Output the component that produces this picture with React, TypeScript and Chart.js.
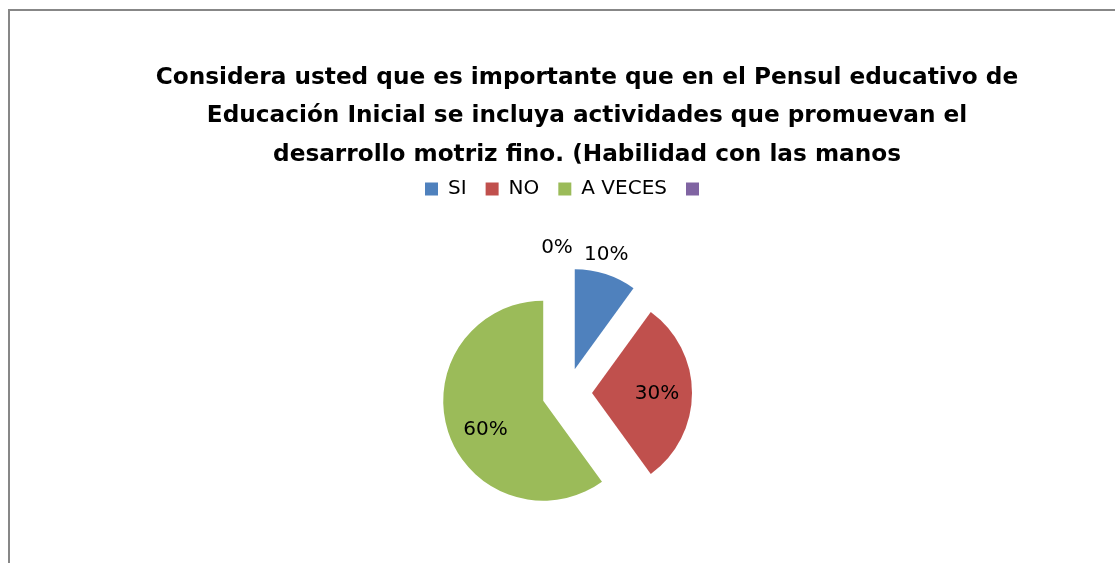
import React, { useEffect, useRef } from 'react';
import { Chart, registerables } from 'chart.js';

Chart.register(...registerables);

// ---- data ----
const categories = ['SI', 'NO', 'A VECES', ''];
const values = [10, 30, 60, 0];
const colors = ['#4F81BD', '#C0504D', '#9BBB59', '#8064A2'];
const titleLines = [
  'Considera usted que es importante que en el Pensul educativo de',
  'Educación Inicial se incluya actividades que promuevan el',
  'desarrollo motriz fino. (Habilidad con las manos',
];

// ---- style / layout ----
const FONT = '"DejaVu Sans"';
const EXPLODE = 25;
const RADIUS = 100;
const labelDist = [1.18, 0.65, 0.65, 1.2];
const labelShiftX = [-5, 0, 4, -10];
const labelShiftY = [-2, 1, 9, 0];
const TITLE_X = 577;
const TITLE_BASE = 72.5;
const TITLE_LH = 38.5;

const explodePlugin = {
  id: 'explode',
  afterDatasetUpdate(chart: any, args: any) {
    const meta = chart.getDatasetMeta(args.index);
    meta.data.forEach((arc: any) => {
      const mid = (arc.startAngle + arc.endAngle) / 2;
      arc.x += Math.cos(mid) * EXPLODE;
      arc.y += Math.sin(mid) * EXPLODE;
    });
  },
};

const labelPlugin = {
  id: 'sliceLabels',
  afterDatasetsDraw(chart: any) {
    const ctx = chart.ctx as CanvasRenderingContext2D;
    const meta = chart.getDatasetMeta(0);
    const data = chart.data.datasets[0].data as number[];
    const total = data.reduce((a, b) => a + b, 0);
    ctx.save();
    ctx.font = `20px ${FONT}`;
    ctx.fillStyle = '#000';
    ctx.textAlign = 'center';
    ctx.textBaseline = 'middle';
    meta.data.forEach((arc: any, i: number) => {
      const mid = (arc.startAngle + arc.endAngle) / 2;
      const r = arc.outerRadius * labelDist[i];
      const x = arc.x + Math.cos(mid) * r + labelShiftX[i];
      const y = arc.y + Math.sin(mid) * r + labelShiftY[i];
      ctx.fillText(Math.round((data[i] / total) * 100) + '%', x, y);
    });
    ctx.restore();
  },
};

const titlePlugin = {
  id: 'excelTitle',
  afterDraw(chart: any) {
    const ctx = chart.ctx as CanvasRenderingContext2D;
    ctx.save();
    ctx.font = `bold 23.2px ${FONT}`;
    ctx.fillStyle = '#000';
    ctx.textAlign = 'center';
    ctx.textBaseline = 'alphabetic';
    titleLines.forEach((t, i) => ctx.fillText(t, TITLE_X, TITLE_BASE + i * TITLE_LH));
    ctx.restore();
  },
};

export default function App() {
  const ref = useRef<HTMLCanvasElement | null>(null);
  useEffect(() => {
    document.documentElement.style.overflow = 'hidden';
    document.body.style.overflow = 'hidden';
    if (!ref.current) return;
    const chart = new Chart(ref.current, {
      type: 'pie',
      data: {
        labels: categories,
        datasets: [
          {
            data: values,
            backgroundColor: colors,
            borderWidth: 0,
          },
        ],
      },
      options: {
        responsive: false,
        animation: false,
        radius: RADIUS,
        layout: { padding: { top: 149, left: 9, right: 0, bottom: 34 } },
        plugins: {
          title: { display: false },
          tooltip: { enabled: false },
          legend: {
            display: true,
            position: 'top',
            labels: {
              font: { family: 'DejaVu Sans', size: 20 },
              color: '#000',
              boxWidth: 13,
              boxHeight: 13,
              padding: 19,
            },
          },
        },
      } as any,
      plugins: [explodePlugin, labelPlugin, titlePlugin],
    });
    return () => chart.destroy();
  }, []);
  return (
    <div
      style={{
        position: 'fixed',
        left: 8,
        top: 9,
        width: 1200,
        height: 650,
        border: '2px solid #878787',
        background: '#fff',
      }}
    >
      <canvas ref={ref} width={1105} height={600} style={{ position: 'absolute', left: 0, top: 0 }} />
    </div>
  );
}
